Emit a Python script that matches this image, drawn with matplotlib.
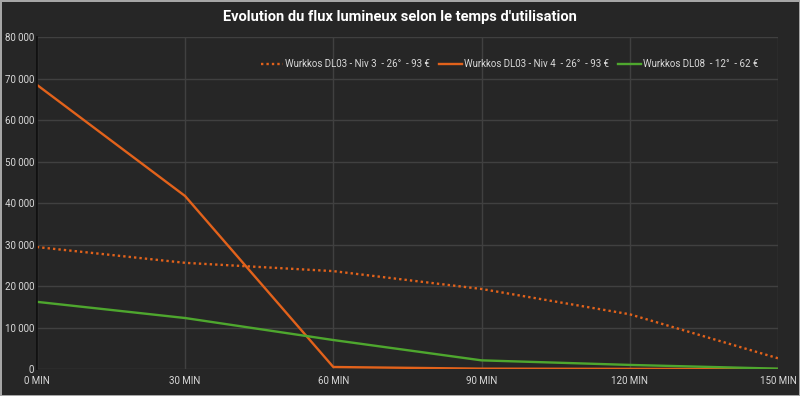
import matplotlib.pyplot as plt
from matplotlib.ticker import FuncFormatter

plt.rcParams['font.family'] = ['Roboto', 'DejaVu Sans']

# Data
temps = ['0 MIN', '30 MIN', '60 MIN', '90 MIN', '120 MIN', '150 MIN']
dl03_niv3 = [29400, 25600, 23600, 19300, 13200, 2600]
dl03_niv4 = [68500, 41700, 500, 100, 50, 0]
dl08 = [16200, 12300, 7000, 2100, 1000, 100]

labels = ['Wurkkos DL03 - Niv 3  - 26°  - 93 €',
          'Wurkkos DL03 - Niv 4  - 26°  - 93 €',
          'Wurkkos DL08  - 12°  - 62 €']

bg = '#262626'
orange = '#E2621B'
green = '#4EA72E'
txt = '#D9D9D9'

fig = plt.figure(figsize=(8, 3.96), dpi=100, facecolor=bg,
                 edgecolor='#A6A6A6', linewidth=2)
ax = fig.add_axes([0.046, 0.068, 0.9265, 0.8385])
ax.set_facecolor(bg)

x = range(len(temps))
ax.plot(x, dl03_niv3, color=orange, lw=1.7, ls=(0, (1, 1.3)), label=labels[0])
ax.plot(x, dl03_niv4, color=orange, lw=1.7, label=labels[1])
ax.plot(x, dl08, color=green, lw=1.7, label=labels[2])

ax.set_xlim(0, len(temps) - 1)
ax.set_ylim(0, 80000)
ax.set_yticks(range(0, 80001, 10000))
ax.yaxis.set_major_formatter(FuncFormatter(lambda v, p: f'{int(v):,}'.replace(',', ' ')))
ax.set_xticks(list(x))
ax.set_xticklabels(temps)

ax.grid(True, color='#404040', lw=1)
ax.set_axisbelow(True)
for s in ['top', 'right', 'bottom']:
    ax.spines[s].set_visible(False)
ax.spines['left'].set_color('#0D0D0D')
ax.spines['left'].set_linewidth(1.2)
ax.tick_params(colors=txt, labelsize=7, length=0)
ax.tick_params(axis='y', pad=2)
ax.tick_params(axis='x', pad=5)

ax.legend(loc='upper right', bbox_to_anchor=(0.985, 0.96), ncol=3, frameon=False,
          fontsize=7, labelcolor=txt, handlelength=2.3, handletextpad=0.2,
          columnspacing=1.0)

fig.text(0.5, 0.957, "Evolution du flux lumineux selon le temps d'utilisation",
         ha='center', va='center', color='white', fontsize=10.5, fontweight='bold')

fig.savefig('out.png', dpi=100, facecolor=bg, edgecolor=fig.get_edgecolor())
